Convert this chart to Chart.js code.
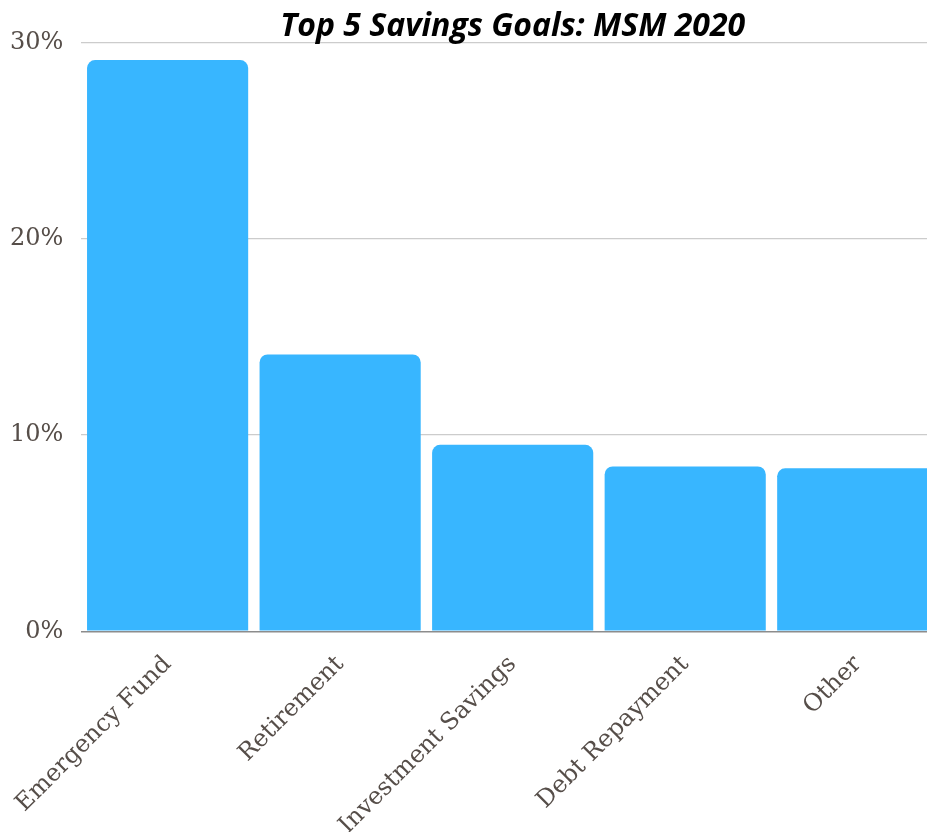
<!DOCTYPE html>
<html>
<head>
<meta charset="utf-8">
<script src="https://cdn.jsdelivr.net/npm/chart.js@4.4.0/dist/chart.umd.min.js"></script>
<style>
  html, body { margin: 0; padding: 0; overflow: hidden; background: #fff; width: 927px; height: 832px; }
  #wrap { position: absolute; left: -8px; top: 0; width: 952px; height: 851px; }
</style>
</head>
<body>
<div id="wrap"><canvas id="bar-chart"></canvas></div>
<script>
const goals = ["Emergency Fund", "Retirement", "Investment Savings", "Debt Repayment", "Other"];
const shares = [29.1, 14.1, 9.5, 8.4, 8.3];
const yTicks = [0, 10, 20, 30];

const labelFont = { family: "'DejaVu Serif', serif", size: 24 };

new Chart(document.getElementById("bar-chart"), {
	type: 'bar',
	data: {
		labels: goals,
		datasets: [
			{
				label: "Share of respondents",
				backgroundColor: "#38b6ff",
				data: shares,
				borderRadius: 8,
				borderSkipped: 'start',
				barPercentage: 0.934,
				categoryPercentage: 1
			}
		]
	},
	options: {
		responsive: true,
		maintainAspectRatio: false,
		animation: false,
		layout: { padding: { left: 0, right: 0, top: 0, bottom: 0 } },
		plugins: {
			legend: { display: false },
			tooltip: { enabled: false },
			title: {
				display: true,
				text: "Top 5 Savings Goals: MSM 2020",
				fullSize: false,
				color: "#000",
				font: { family: "'Open Sans', sans-serif", size: 32, weight: 'bold', style: 'italic' },
				padding: { top: 8, bottom: -4 }
			}
		},
		scales: {
			x: {
				grid: { display: false },
				border: { display: false },
				ticks: {
					color: "#564e49",
					font: labelFont,
					minRotation: 45,
					maxRotation: 45,
					padding: 11
				}
			},
			y: {
				min: yTicks[0],
				max: yTicks[yTicks.length - 1],
				afterBuildTicks: axis => { axis.ticks = yTicks.map(v => ({ value: v })); },
				border: { display: false },
				grid: {
					drawTicks: false,
					color: ctx => ctx.tick && ctx.tick.value === 0 ? "#8c8c8c" : "#cccccc",
					lineWidth: ctx => ctx.tick && ctx.tick.value === 0 ? 1.5 : 1.2
				},
				ticks: {
					color: "#564e49",
					font: labelFont,
					padding: 18,
					callback: v => v + "%"
				}
			}
		}
	}
});
</script>
</body>
</html>
